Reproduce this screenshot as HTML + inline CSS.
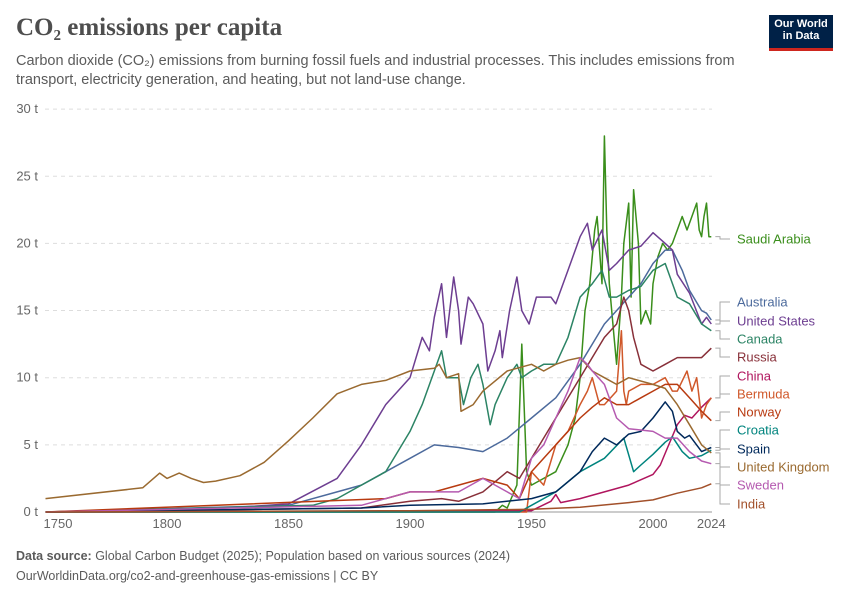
<!DOCTYPE html>
<html><head><meta charset="utf-8">
<style>
body{margin:0;background:#fff;font-family:"Liberation Sans",sans-serif;}
#wrap{position:relative;width:850px;height:600px;overflow:hidden;}
h1{position:absolute;left:16px;top:14px;margin:0;font:bold 25px "Liberation Serif",serif;color:#4e4e4e;}
.sub{position:absolute;left:16px;top:52px;width:740px;font-size:14.5px;line-height:19px;color:#5b5b5b;}
.logo{position:absolute;left:769px;top:15px;width:64px;height:36px;background:#002147;color:#fff;font-size:11px;font-weight:bold;line-height:12px;text-align:center;padding-top:3px;box-sizing:border-box;border-bottom:3px solid #ce261e;}
.foot{position:absolute;left:16px;font-size:12.5px;color:#5b5b5b;}
</style></head><body>
<div id="wrap">
<h1>CO₂ emissions per capita</h1>
<div class="sub">Carbon dioxide (CO₂) emissions from burning fossil fuels and industrial processes. This includes emissions from transport, electricity generation, and heating, but not land-use change.</div>
<div class="logo">Our World<br>in Data</div>
<svg id="chart" width="850" height="600" style="position:absolute;left:0;top:0"></svg>
<div class="foot" style="top:549px"><b>Data source:</b> Global Carbon Budget (2025); Population based on various sources (2024)</div>
<div class="foot" style="top:569px">OurWorldinData.org/co2-and-greenhouse-gas-emissions | CC BY</div>
</div>
<script>
const yTicks=[0,5,10,15,20,25,30];
const xTicks=[1750,1800,1850,1900,1950,2000,2024];
const names=["Saudi Arabia","Australia","United States","Canada","Russia","China","Bermuda","Norway","Croatia","Spain","United Kingdom","Sweden","India"];
const colors=["#3a8e1b","#4c6a9c","#6d3e91","#2c8465","#883039","#b0155e","#d0582a","#b83a10","#00847e","#00295b","#9a6a30","#b55ab0","#a2502a"];
const labelY=[239,302,321,339,357,376,394,412,430,449,467,485,504];
const years=[
[1750,1935,1938,1940,1944,1946,1948,1950,1955,1960,1965,1968,1970,1972,1974,1976,1977,1979,1980,1981,1982,1984,1985,1987,1988,1990,1991,1992,1994,1995,1997,1999,2000,2002,2004,2006,2008,2010,2012,2014,2016,2018,2019,2020,2021,2022,2023,2024],
[1750,1850,1870,1880,1890,1900,1910,1920,1930,1940,1950,1960,1970,1975,1980,1985,1990,1995,2000,2005,2008,2012,2015,2020,2022,2024],
[1750,1800,1850,1870,1880,1890,1900,1905,1908,1910,1913,1915,1918,1920,1921,1924,1926,1930,1932,1935,1937,1938,1941,1944,1946,1949,1952,1958,1960,1965,1970,1973,1975,1979,1982,1985,1990,1995,2000,2005,2008,2010,2015,2020,2022,2024],
[1750,1860,1870,1880,1890,1900,1905,1910,1913,1915,1920,1922,1925,1928,1930,1933,1935,1940,1944,1946,1950,1955,1960,1965,1970,1975,1979,1982,1985,1990,1995,2000,2005,2010,2015,2020,2024],
[1750,1880,1900,1913,1920,1930,1940,1945,1950,1960,1970,1980,1985,1988,1990,1992,1995,2000,2005,2010,2015,2020,2024],
[1750,1950,1958,1960,1962,1970,1980,1990,2000,2003,2006,2010,2013,2016,2020,2024],
[1750,1948,1950,1955,1960,1965,1970,1973,1975,1978,1980,1985,1987,1988,1989,1990,1995,2000,2005,2008,2010,2014,2016,2018,2020,2022,2024],
[1750,1890,1900,1910,1920,1930,1940,1945,1950,1960,1970,1975,1980,1985,1990,1995,2000,2005,2010,2015,2020,2024],
[1750,1945,1950,1960,1970,1980,1988,1992,1995,2000,2005,2008,2012,2015,2020,2024],
[1750,1880,1900,1930,1950,1960,1970,1975,1980,1985,1990,1995,2000,2005,2008,2010,2013,2015,2020,2024],
[1750,1790,1797,1800,1805,1810,1815,1820,1830,1840,1850,1860,1870,1880,1890,1900,1910,1912,1915,1920,1921,1926,1930,1940,1950,1955,1960,1965,1970,1975,1980,1985,1990,2000,2005,2010,2015,2020,2024],
[1750,1880,1900,1910,1920,1930,1940,1945,1950,1955,1960,1965,1970,1973,1975,1980,1985,1990,2000,2005,2010,2015,2020,2024],
[1750,1900,1950,1970,1990,2000,2010,2020,2024]
];
const values=[
[0,0,0.5,0.3,2,12.5,3,2,2.5,3,5,7,10,15,17,21,22,17,28,21,17,13,11,16,20,23,16,24,20,14,15,14,17,19,20,19.5,20,21,22,21,22,23,21,20.5,22,23,20.5,20.5],
[0,0.5,1.5,2,3,4,5,4.8,4.5,5.5,7,8.5,11,12.5,14,15,16,17,18.5,19.5,19.5,18,16.5,15,14.8,14.3],
[0,0,0.6,2.5,5,8,10,13,12,14.5,17,13,17.5,15,12.5,16,15.5,14,10.5,12,13.5,11.5,15,17.5,15,14,16,16,15.5,18,20.5,21.5,19.5,21,18,18.5,19.5,19.8,20.8,20,19.5,17.7,16.3,14,14.5,14],
[0,0.5,1,2,3,6,8,10.5,12,10,10,8,10,11,9.5,6.5,8,10,11,10,10.5,11,11,13,16,17,18,16,16,16.5,16.8,18,18.5,16,15.5,14,13.5],
[0,0.3,0.8,1,0.8,1.5,3,2.5,4,7,10,13,14,16,15,13,11,10.5,11,11.5,11.5,11.5,12.2],
[0,0.1,0.8,1.3,0.7,1,1.5,2,2.8,3.5,4.8,6.5,7.2,7,7.8,8.5],
[0,0,3,2,5,6,8,9,10,8,8,9,13.5,9,8,9,9.5,9.5,10,9,9,10.5,9,10,7,8,8.5],
[0,1,1.5,1.5,2,2.5,2,1,3,5,7,7.8,8.5,8,8,8.5,9,9.5,9.5,8.5,7.5,6.8],
[0,0,0.5,1.5,3,4,5.5,3,3.5,4.3,5.2,5.6,4.5,4,4.2,4.6],
[0,0.3,0.5,0.6,1,1.5,3,4.5,5.5,5,5.8,6,7,8.2,7.5,6,5.5,5.7,4.5,4.8],
[1.0,1.8,2.9,2.5,2.9,2.5,2.2,2.3,2.7,3.7,5.3,7,8.8,9.5,9.8,10.5,10.7,11,10,10.3,7.5,8,9,10.5,11,10.5,11,11.3,11.5,10.5,10,9.5,10,9.5,9.2,8,6.5,5,4.4],
[0,0.5,1.5,1.5,1.5,2.5,1.5,1,4,5,7,9,11.5,11,10.5,9.5,7,6.2,6,5.5,5.5,4.5,3.8,3.6],
[0,0.1,0.2,0.35,0.7,0.9,1.4,1.8,2.1]
];
const svg=document.getElementById('chart');
const NS='http://www.w3.org/2000/svg';
const x=v=>45.5+(v-1750)*2.43;
const y=v=>512-v*13.43;
function mk(t,a){const e=document.createElementNS(NS,t);for(const k in a)e.setAttribute(k,a[k]);svg.appendChild(e);return e;}
yTicks.forEach(t=>{
 const g=mk('line',{x1:45,x2:712,y1:y(t),y2:y(t),stroke:t?'#ddd':'#999','stroke-dasharray':t?'4,4':''});
 
 
 const l=mk('text',{x:38,y:y(t)+4,'text-anchor':'end','font-size':13,fill:'#666','font-family':'Liberation Sans'});
 l.textContent=t+' t';
 
 
});
xTicks.forEach(t=>{
 const l=mk('text',{x:t==1750?58:x(t),y:528,'text-anchor':'middle','font-size':13,fill:'#666','font-family':'Liberation Sans'});
 l.textContent=t;
 
 
});
names.forEach((n,i)=>{
 const ys=years[i],vs=values[i];
 const d=ys.map((yr,j)=>(j?'L':'M')+x(yr).toFixed(1)+','+y(vs[j]).toFixed(1)).join('');
 const p=mk('path',{d:d,fill:'none',stroke:colors[i],'stroke-width':1.5,'stroke-linejoin':'round'});
 
 
 const ey=y(vs[vs.length-1]);
 const c=mk('path',{d:`M${x(2024)+4},${ey}H720V${labelY[i]}H730`,fill:'none',stroke:'#aaa','stroke-width':1});
 
 
 const t=mk('text',{x:737,y:labelY[i]+4.5,'font-size':13,fill:colors[i],'font-family':'Liberation Sans'});
 t.textContent=n;
 
 
});
</script>
</body></html>
